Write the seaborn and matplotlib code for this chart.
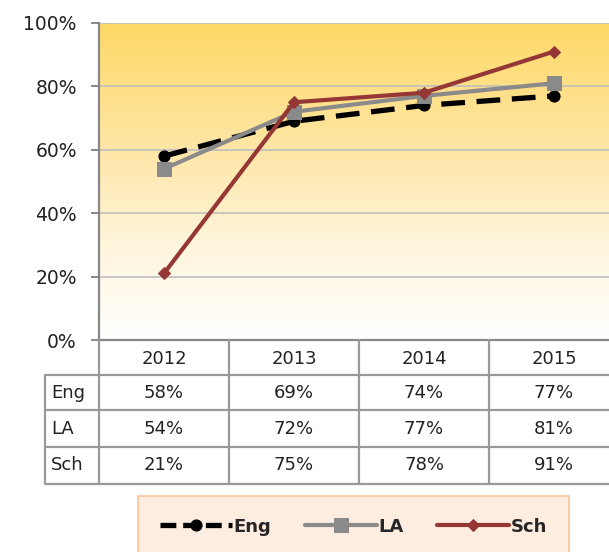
import numpy as np
import pandas as pd
import matplotlib
matplotlib.use("Agg")
import matplotlib.pyplot as plt
import seaborn as sns
from matplotlib.colors import LinearSegmentedColormap

# data
years = ["2012", "2013", "2014", "2015"]
series = ["Eng", "LA", "Sch"]
eng = [58, 69, 74, 77]
la = [54, 72, 77, 81]
sch = [21, 75, 78, 91]

colors = {"Eng": "#000000", "LA": "#8A8A8A", "Sch": "#953735"}
markers = {"Eng": "o", "LA": "s", "Sch": "D"}
msizes = {"Eng": 8, "LA": 10, "Sch": 6}
lws = {"Eng": 3.8, "LA": 3.0, "Sch": 3.0}

df = pd.DataFrame({"year": years * 3,
                   "pos": list(range(4)) * 3,
                   "series": np.repeat(series, 4),
                   "value": eng + la + sch})

sns.set_style("white")
plt.rcParams["font.family"] = ["DejaVu Sans"]

W, H = 609, 552
fig = plt.figure(figsize=(W / 100, H / 100), dpi=100)

# main plot area in pixels
L, R, T, B = 99, 619, 23, 340
ax = fig.add_axes([L / W, 1 - B / H, (R - L) / W, (B - T) / H])

# gradient background
cmap = LinearSegmentedColormap.from_list(
    "g", [(0, "#FFFFFF"), (0.3, "#FFF5DC"), (0.6, "#FEE6A6"), (1, "#FFD966")])
grad = np.linspace(0, 1, 256).reshape(-1, 1)
ax.imshow(grad, cmap=cmap, aspect="auto", extent=[-0.5, 3.5, 0, 100],
          origin="lower", zorder=0)

for s in series:
    d = df[df["series"] == s]
    sns.lineplot(data=d, x="pos", y="value", ax=ax, color=colors[s],
                 marker=markers[s], markersize=msizes[s],
                 markeredgecolor=colors[s], linewidth=lws[s],
                 linestyle="--" if s == "Eng" else "-",
                 label=s, zorder=3, legend=False)
ax.lines[0].set_dashes((4.5, 2.2))

ax.set_xlim(-0.5, 3.5)
ax.set_ylim(0, 100)
ax.set_yticks(range(0, 101, 20))
ax.set_yticklabels([f"{v}%" for v in range(0, 101, 20)], fontsize=13.5, color="#222222")
ax.set_xticks([])
ax.set_xlabel("")
ax.set_ylabel("")
ax.grid(axis="y", color="#BFBFBF", linewidth=1.2, zorder=1)
ax.set_axisbelow(True)
for sp in ["top", "right"]:
    ax.spines[sp].set_visible(False)
ax.spines["left"].set_color("#888888")
ax.spines["left"].set_linewidth(1.6)
ax.spines["bottom"].set_color("#888888")
ax.spines["bottom"].set_linewidth(1.6)
ax.tick_params(axis="y", length=6, width=1.4, color="#888888", pad=10, left=True)

# data table below in pixel coordinates
tab = fig.add_axes([0, 0, 1, 1], facecolor="none")
tab.set_xlim(0, W)
tab.set_ylim(H, 0)
tab.axis("off")
gc = "#999999"
col_w = (R - L) / 4
row_y = [B, 375, 410, 447, 484]
left_lab = 45
for i in range(5):
    x = L + i * col_w
    tab.plot([x, x], [B, row_y[-1]], color=gc, lw=1.6)
for y in row_y[1:]:
    tab.plot([left_lab, R], [y, y], color=gc, lw=1.6)
tab.plot([left_lab, left_lab], [row_y[1], row_y[-1]], color=gc, lw=1.6)
for i, yr in enumerate(years):
    tab.text(L + (i + 0.5) * col_w, (row_y[0] + row_y[1]) / 2 + 1, yr,
             ha="center", va="center", fontsize=13, color="#222222")
vals = {"Eng": eng, "LA": la, "Sch": sch}
for r, s in enumerate(series):
    yc = (row_y[r + 1] + row_y[r + 2]) / 2
    tab.text(left_lab + 6, yc, s, ha="left", va="center", fontsize=13, color="#222222")
    for i, v in enumerate(vals[s]):
        tab.text(L + (i + 0.5) * col_w, yc, f"{v}%", ha="center", va="center",
                 fontsize=13, color="#222222")

handles, labels = ax.get_legend_handles_labels()
leg = fig.legend(handles, labels, loc="upper left", ncol=3, mode="expand",
                 bbox_to_anchor=(138 / W, 0, (569 - 138) / W, 1 - 496 / H),
                 frameon=True, fancybox=False, handlelength=4.0, handletextpad=0.1,
                 borderpad=1.2, borderaxespad=0,
                 prop={"weight": "bold", "size": 13})
leg.get_frame().set_facecolor("#FDE9D9")
leg.get_frame().set_edgecolor("#F9C49C")
leg.get_frame().set_linewidth(1.5)
leg.get_lines()[0].set_dashes((3.0, 1.3))

fig.savefig("out.png", dpi=100)
